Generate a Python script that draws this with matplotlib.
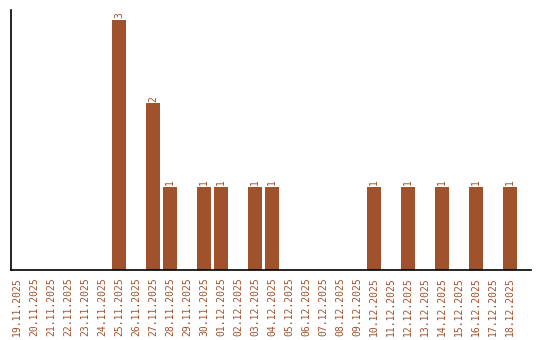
import matplotlib
matplotlib.use("Agg")
import matplotlib.pyplot as plt

dates = ["19.11.2025", "20.11.2025", "21.11.2025", "22.11.2025", "23.11.2025",
         "24.11.2025", "25.11.2025", "26.11.2025", "27.11.2025", "28.11.2025",
         "29.11.2025", "30.11.2025", "01.12.2025", "02.12.2025", "03.12.2025",
         "04.12.2025", "05.12.2025", "06.12.2025", "07.12.2025", "08.12.2025",
         "09.12.2025", "10.12.2025", "11.12.2025", "12.12.2025", "13.12.2025",
         "14.12.2025", "15.12.2025", "16.12.2025", "17.12.2025", "18.12.2025"]
counts = [0, 0, 0, 0, 0, 0, 3, 0, 2, 1,
          0, 1, 1, 0, 1, 1, 0, 0, 0, 0,
          0, 1, 0, 1, 0, 1, 0, 1, 0, 1]

color = "#A0522D"
W, H = 540, 340
fig = plt.figure(figsize=(W / 100, H / 100), dpi=100)
ax = fig.add_axes([11 / W, 70 / H, 520 / W, 260 / H])

x = list(range(len(dates)))
ax.bar(x, counts, width=0.82, color=color)
for xi, c in zip(x, counts):
    if c > 0:
        ax.text(xi, c + 0.02, str(c), rotation=90, ha="center", va="bottom",
                fontsize=7, color=color, family="DejaVu Sans Mono")

ax.set_xlim(-0.35, 30.24)
ax.set_ylim(0, 3.12)
ax.set_xticks(x)
ax.set_xticklabels(dates, rotation=90, fontsize=7, color=color, family="DejaVu Sans Mono")
ax.tick_params(axis="x", length=0, pad=5)
ax.set_yticks([])
for s in ["top", "right"]:
    ax.spines[s].set_visible(False)
ax.spines["left"].set_linewidth(1.2)
ax.spines["bottom"].set_linewidth(1.2)

fig.savefig("out.png", dpi=100)
